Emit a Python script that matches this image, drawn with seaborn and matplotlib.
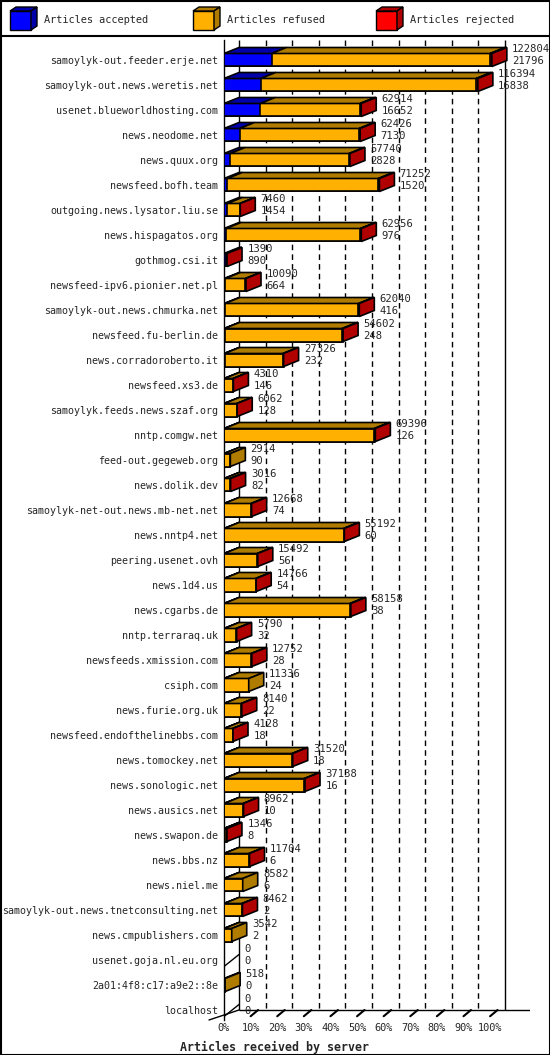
import matplotlib
matplotlib.use("Agg")
import matplotlib.pyplot as plt
import seaborn as sns
from matplotlib.patches import Polygon, Rectangle
from matplotlib.lines import Line2D

servers = [
    "samoylyk-out.feeder.erje.net", "samoylyk-out.news.weretis.net",
    "usenet.blueworldhosting.com", "news.neodome.net", "news.quux.org",
    "newsfeed.bofh.team", "outgoing.news.lysator.liu.se", "news.hispagatos.org",
    "gothmog.csi.it", "newsfeed-ipv6.pionier.net.pl", "samoylyk-out.news.chmurka.net",
    "newsfeed.fu-berlin.de", "news.corradoroberto.it", "newsfeed.xs3.de",
    "samoylyk.feeds.news.szaf.org", "nntp.comgw.net", "feed-out.gegeweb.org",
    "news.dolik.dev", "samoylyk-net-out.news.mb-net.net", "news.nntp4.net",
    "peering.usenet.ovh", "news.1d4.us", "news.cgarbs.de", "nntp.terraraq.uk",
    "newsfeeds.xmission.com", "csiph.com", "news.furie.org.uk",
    "newsfeed.endofthelinebbs.com", "news.tomockey.net", "news.sonologic.net",
    "news.ausics.net", "news.swapon.de", "news.bbs.nz", "news.niel.me",
    "samoylyk-out.news.tnetconsulting.net", "news.cmpublishers.com",
    "usenet.goja.nl.eu.org", "2a01:4f8:c17:a9e2::8e", "localhost",
]
offered = [122804, 116394, 62914, 62426, 57740, 71252, 7460, 62956, 1390, 10090,
           62040, 54602, 27326, 4310, 6062, 69396, 2914, 3016, 12668, 55192,
           15492, 14766, 58158, 5790, 12752, 11336, 8140, 4128, 31520, 37138,
           8962, 1346, 11704, 8582, 8462, 3542, 0, 518, 0]
accepted = [21796, 16838, 16652, 7130, 2828, 1520, 1454, 976, 890, 664,
            416, 248, 232, 146, 128, 126, 90, 82, 74, 60,
            56, 54, 38, 32, 28, 24, 22, 18, 18, 16,
            10, 8, 6, 6, 2, 2, 0, 0, 0]
refused = [100208, 98756, 45662, 54796, 54512, 69232, 5806, 61580, 300, 9126,
           61224, 53954, 26794, 3964, 5734, 68770, 2824, 2734, 12294, 54732,
           15136, 14412, 57720, 5558, 12424, 11312, 7918, 3910, 31202, 36822,
           8752, 1038, 11398, 8576, 8260, 3540, 0, 518, 0]
rejected = [800, 800, 600, 500, 400, 500, 200, 400, 200, 300,
            400, 400, 300, 200, 200, 500, 0, 200, 300, 400,
            300, 300, 400, 200, 300, 0, 200, 200, 300, 300,
            200, 300, 300, 0, 200, 0, 0, 0, 0]

FULL = 122000  # 100 %
W, H = 550, 1055
fig = plt.figure(figsize=(W / 100, H / 100), dpi=100)
sns.set_style("white")
plt.rcParams["font.family"] = ["DejaVu Sans Mono"]

# main axes in pixel layout
ax_l, ax_r, ax_t, ax_b = 224, 530, 40, 1020
ax = fig.add_axes([ax_l / W, 1 - ax_b / H, (ax_r - ax_l) / W, (ax_b - ax_t) / H])
px_x = (ax_r - ax_l) / (115 / 100 * FULL)
row0, step = 60, 25.0
dx = 15 / px_x
dy = 6 / step
bh = 13 / step

blue, orange, red = "#0000ff", "#ffb000", "#ff0000"
dblue, dorange, dred = "#0000aa", "#b07c00", "#b00000"

cum2 = [a + r for a, r in zip(accepted, refused)]
cum3 = [a + r + j for a, r, j in zip(accepted, refused, rejected)]
for vals, col in [(cum3, red), (cum2, orange), (accepted, blue)]:
    sns.barplot(x=vals, y=servers, orient="h", color=col, width=bh,
                edgecolor="black", linewidth=1.2, saturation=1, ax=ax, zorder=3)

for i in range(len(servers)):
    top, bot = i - bh / 2, i + bh / 2
    segs = [(0, accepted[i], dblue),
            (accepted[i], cum2[i], dorange),
            (cum2[i], cum3[i], dred)]
    last = None
    for a, b, c in segs:
        if b > a:
            ax.add_patch(Polygon([(a, top), (b, top), (b + dx, top - dy), (a + dx, top - dy)],
                                 closed=True, fc=c, ec="black", lw=1.2, zorder=3))
            last = c
    end = cum3[i]
    if last is not None:
        ax.add_patch(Polygon([(end, top), (end + dx, top - dy), (end + dx, bot - dy), (end, bot)],
                             closed=True, fc=last, ec="black", lw=1.2, zorder=3))
    else:
        ax.add_line(Line2D([0, dx], [bot, bot - 2 * dy], color="black", lw=1, zorder=3))
    ax.text(end + dx + 0.02 * FULL, top - dy + 0.05, f"{offered[i]}", fontsize=7.6,
            va="center", ha="left", zorder=4)
    ax.text(end + dx + 0.02 * FULL, i + 0.05, f"{accepted[i]}", fontsize=7.6,
            va="center", ha="left", zorder=4)

ylim_top = (ax_t - row0) / step
ylim_bot = (ax_b - row0) / step
floor = 38.0
ax.set_ylim(ylim_bot, ylim_top)
ax.set_xlim(0, 1.15 * FULL)

# back wall grid
for k in range(1, 10):
    ax.vlines(k * FULL / 10 + dx, ylim_top, floor, colors="black", linestyles=(0, (4, 3)),
              lw=1, zorder=1)
ax.vlines([dx, FULL + dx], ylim_top, floor, colors="black", lw=1, zorder=1)
ax.hlines(floor, dx, 1.15 * FULL, colors="black", lw=1, zorder=1)
ax.add_line(Line2D([dx, -dx], [floor, floor + 0.4], color="black", lw=1, clip_on=False))
for k in range(1, 11):
    x = k * FULL / 10
    ax.add_line(Line2D([x, x + dx * 0.5], [floor + 0.25, floor], color="black", lw=1.5))

for s in ["top", "right", "bottom"]:
    ax.spines[s].set_visible(False)
ax.spines["left"].set_color("black")
ax.spines["left"].set_linewidth(1)
ax.set_xticks([k * FULL / 10 for k in range(11)])
ax.set_xticklabels([f"{k * 10}%" for k in range(11)], fontsize=7.4)
ax.tick_params(axis="x", length=0, pad=2)
ax.tick_params(axis="y", length=0, pad=4, labelsize=7.2)
ax.set_ylabel("")
ax.set_xlabel("Articles received by server", fontsize=8.4, fontweight="bold", labelpad=3,
              loc="left")
ax.xaxis.set_label_coords(-0.145, -0.021)
ax.patch.set_alpha(0)

# legend strip + frame
lg = fig.add_axes([0, 0, 1, 1], zorder=-1)
lg.set_xlim(0, W)
lg.set_ylim(H, 0)
lg.axis("off")
lg.add_patch(Rectangle((0.5, 0.5), W - 1, H - 1, fill=False, ec="black", lw=1.5))
lg.add_line(Line2D([0, W], [36, 36], color="black", lw=1.5))
for x0, fc, dc, lab in [(10, blue, dblue, "Articles accepted"),
                        (193, orange, dorange, "Articles refused"),
                        (376, red, dred, "Articles rejected")]:
    lg.add_patch(Polygon([(x0, 11), (x0 + 21, 11), (x0 + 21, 30), (x0, 30)], fc=fc, ec="black", lw=1))
    lg.add_patch(Polygon([(x0, 11), (x0 + 6, 7), (x0 + 27, 7), (x0 + 21, 11)], fc=dc, ec="black", lw=1))
    lg.add_patch(Polygon([(x0 + 21, 11), (x0 + 27, 7), (x0 + 27, 26), (x0 + 21, 30)], fc=dc, ec="black", lw=1))
    lg.text(x0 + 34, 20, lab, fontsize=7.4, va="center", ha="left")

fig.savefig("out.png", dpi=100)
